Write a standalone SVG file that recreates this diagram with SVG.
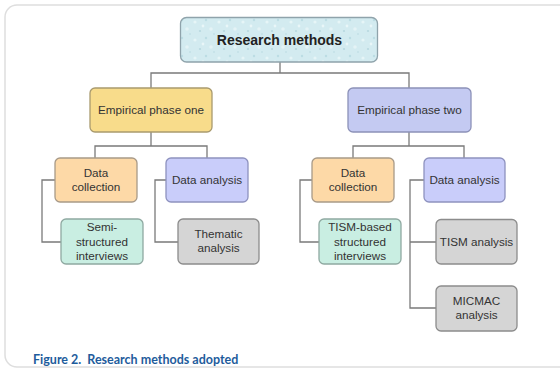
<svg xmlns="http://www.w3.org/2000/svg" width="560" height="369" viewBox="0 0 560 369">
<defs>
<pattern id="tex" width="24" height="18" patternUnits="userSpaceOnUse">
<rect width="24" height="18" fill="#d3ebf0"/>
<circle cx="3" cy="4" r="1.6" fill="#e6f5f7"/>
<circle cx="14" cy="2" r="1.2" fill="#bcdde4"/>
<circle cx="19" cy="11" r="1.8" fill="#e4f3f6"/>
<circle cx="8" cy="13" r="1.1" fill="#b8d9e0"/>
<circle cx="22" cy="16" r="0.9" fill="#c2e0e6"/>
<circle cx="11" cy="8" r="1.4" fill="#e9f6f8"/>
</pattern>
</defs>
<style>
.card{fill:#ffffff;stroke:#dedede;stroke-width:1.5}
.n{stroke-width:1.3}
.t{font-family:"Liberation Sans",Arial,sans-serif;font-size:11.7px;fill:#333333;text-anchor:middle}
.tb{font-family:"Liberation Sans",Arial,sans-serif;font-size:14px;font-weight:bold;fill:#222222;text-anchor:middle}
.c{fill:none;stroke:#7a7a7a;stroke-width:1.3}
.cap{font-family:Lato,"Liberation Sans",sans-serif;font-size:12.5px;font-weight:bold;fill:#1e5c9c}
</style>
<rect class="card" x="5" y="5" width="600" height="362" rx="12"/>
<g id="connectors">
<path class="c" d="M280 62V73M151 88V73H409V88"/>
<path class="c" d="M151 132V146M95 158V146H207V158"/>
<path class="c" d="M409 132V146M353 158V146H464V158"/>
<path class="c" d="M55 180H42V242H61"/>
<path class="c" d="M166 180H155V242H178"/>
<path class="c" d="M312 180H300V242H319"/>
<path class="c" d="M424 180H410V308H436M410 242H436"/>
</g>
<g id="root">
<rect class="n" x="180.5" y="17.5" width="197" height="44.5" rx="6" fill="url(#tex)" stroke="#8fa3ab"/>
<text class="tb" x="279.5" y="44.5">Research methods</text>
</g>
<g id="phase-one">
<rect class="n" x="90" y="88" width="122" height="44" rx="5" fill="#f8dc8b" stroke="#a99a6e"/>
<text class="t" x="151" y="114">Empirical phase one</text>
</g>
<g id="phase-two">
<rect class="n" x="348" y="88" width="123" height="44" rx="5" fill="#c4caf2" stroke="#8c91b8"/>
<text class="t" x="409.5" y="114">Empirical phase two</text>
</g>
<g id="data-collection-1">
<rect class="n" x="55" y="158" width="82" height="44" rx="5" fill="#fdd9a7" stroke="#a89a88"/>
<text class="t" x="96" y="177">Data</text>
<text class="t" x="96" y="191">collection</text>
</g>
<g id="data-analysis-1">
<rect class="n" x="166" y="158" width="82" height="44" rx="5" fill="#c9cdfa" stroke="#8e92bf"/>
<text class="t" x="207" y="184">Data analysis</text>
</g>
<g id="semi-structured">
<rect class="n" x="61" y="219" width="82" height="45" rx="5" fill="#c9eee2" stroke="#8fa9a1"/>
<text class="t" x="102" y="231">Semi-</text>
<text class="t" x="102" y="246">structured</text>
<text class="t" x="102" y="260">interviews</text>
</g>
<g id="thematic">
<rect class="n" x="178" y="219" width="81" height="45" rx="5" fill="#d5d5d5" stroke="#8c8c8c"/>
<text class="t" x="218.5" y="238">Thematic</text>
<text class="t" x="218.5" y="252">analysis</text>
</g>
<g id="data-collection-2">
<rect class="n" x="312" y="158" width="82" height="44" rx="5" fill="#fdd9a7" stroke="#a89a88"/>
<text class="t" x="353" y="177">Data</text>
<text class="t" x="353" y="191">collection</text>
</g>
<g id="data-analysis-2">
<rect class="n" x="424" y="158" width="81" height="44" rx="5" fill="#c9cdfa" stroke="#8e92bf"/>
<text class="t" x="464.5" y="184">Data analysis</text>
</g>
<g id="tism-interviews">
<rect class="n" x="319" y="219" width="82" height="45" rx="5" fill="#c9eee2" stroke="#8fa9a1"/>
<text class="t" x="360" y="231">TISM-based</text>
<text class="t" x="360" y="246">structured</text>
<text class="t" x="360" y="260">interviews</text>
</g>
<g id="tism-analysis">
<rect class="n" x="436" y="219.5" width="81" height="44.5" rx="5" fill="#d5d5d5" stroke="#8c8c8c"/>
<text class="t" x="476.5" y="246">TISM analysis</text>
</g>
<g id="micmac">
<rect class="n" x="436" y="286" width="81" height="45" rx="5" fill="#d5d5d5" stroke="#8c8c8c"/>
<text class="t" x="476.5" y="305">MICMAC</text>
<text class="t" x="476.5" y="319">analysis</text>
</g>
<text class="cap" x="33" y="364">Figure 2.<tspan dx="6">Research methods adopted</tspan></text>
</svg>
